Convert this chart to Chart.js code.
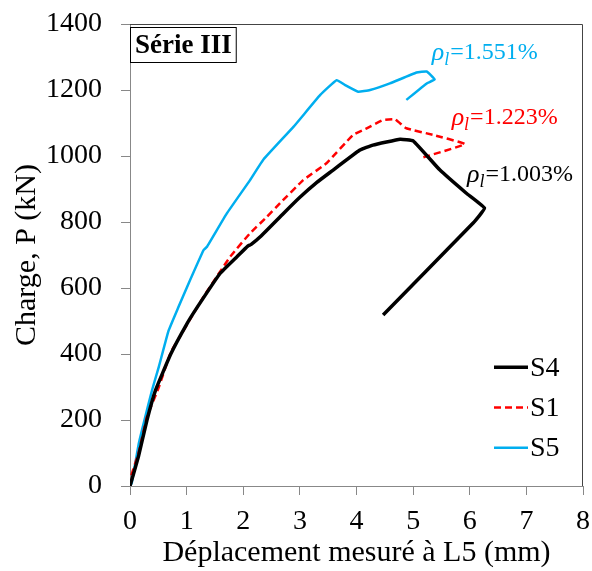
<!DOCTYPE html>
<html>
<head>
<meta charset="utf-8">
<script src="https://cdn.jsdelivr.net/npm/chart.js@4/dist/chart.umd.min.js"></script>
<style>
  html, body { margin: 0; padding: 0; background: #fff; }
  #wrap { width: 592px; height: 571px; }
</style>
</head>
<body>
<div id="wrap"><canvas id="chart" width="592" height="571"></canvas></div>
<script>
// S4 (black) - displacement (mm) / load (kN)
const s4X = [0, 0.15, 0.3, 0.45, 0.72, 1.0, 1.2, 1.59, 1.89, 2.08, 2.14, 2.3, 2.71, 3.0, 3.3, 3.53, 4.06, 4.29, 4.77, 5.0, 5.47, 5.94, 6.26, 6.06, 4.47];
const s4Y = [0, 90, 200, 290, 400, 490, 545, 644, 695, 727, 732, 755, 826, 875, 920, 950, 1018, 1033, 1051, 1046, 958, 887, 842, 797, 518];

// S1 (red, dashed)
const s1X = [0, 0.02, 0.15, 0.3, 0.5, 0.72, 0.89, 1.3, 1.77, 2.12, 2.42, 2.65, 3.06, 3.47, 3.94, 4.18, 4.47, 4.68, 4.88, 5.35, 5.91, 5.18];
const s1Y = [0, 30, 100, 210, 295, 405, 455, 574, 695, 766, 816, 857, 927, 978, 1064, 1084, 1109, 1111, 1084, 1064, 1036, 996];

// S5 (cyan)
const s5X = [0, 0.03, 0.155, 0.27, 0.39, 0.51, 0.68, 0.85, 1.01, 1.3, 1.36, 1.71, 2.12, 2.36, 2.89, 3.36, 3.65, 3.8, 4.03, 4.24, 4.59, 5.06, 5.24, 5.38, 5.24, 4.88];
const s5Y = [0, 8, 129, 210, 291, 362, 470, 540, 604, 715, 725, 826, 927, 990, 1089, 1185, 1230, 1215, 1195, 1200, 1220, 1253, 1256, 1232, 1220, 1170];

const seriesNames = ['S4', 'S1', 'S5'];
const ratioLabels = ['1.003%', '1.223%', '1.551%'];
const xTicks = [0, 1, 2, 3, 4, 5, 6, 7, 8];
const yTicks = [0, 200, 400, 600, 800, 1000, 1200, 1400];

const serif = '"Liberation Serif", "Times New Roman", serif';

function pts(xs, ys) {
  return xs.map((x, i) => ({ x: x, y: ys[i] }));
}

// keep the plot box fixed: drop the label overhang padding
function noOverhang(s) {
  s.paddingTop = 0;
  s.paddingBottom = 0;
  s.paddingLeft = 0;
  s.paddingRight = 0;
}

// frame, legend, labels drawn over the chart
const decor = {
  id: 'decor',
  afterDraw(chart) {
    const ctx = chart.ctx;
    const a = chart.chartArea;
    const sx = chart.scales.x, sy = chart.scales.y;
    ctx.save();

    // top / right border of the plot box
    ctx.strokeStyle = '#444';
    ctx.lineWidth = 1;
    ctx.beginPath();
    ctx.moveTo(a.left, a.top + 0.5);
    ctx.lineTo(a.right - 0.5, a.top + 0.5);
    ctx.lineTo(a.right - 0.5, a.bottom);
    ctx.stroke();

    // "Série III" box
    ctx.font = 'bold 27px ' + serif;
    ctx.textBaseline = 'middle';
    ctx.textAlign = 'left';
    const bx = a.left, by = a.top + 3;
    const tw = ctx.measureText('Série III').width;
    ctx.fillStyle = '#fff';
    ctx.fillRect(bx, by, tw + 10, 35);
    ctx.strokeStyle = '#000';
    ctx.strokeRect(bx + 0.5, by + 0.5, tw + 9, 35);
    ctx.fillStyle = '#000';
    ctx.fillText('Série III', bx + 5, by + 19);

    // legend
    ctx.font = '28px ' + serif;
    chart.data.datasets.forEach((ds, i) => {
      const ly = sy.getPixelForValue(360 - i * 122);
      ctx.strokeStyle = ds.borderColor;
      ctx.lineWidth = ds.borderWidth;
      ctx.setLineDash(ds.borderDash || []);
      ctx.beginPath();
      ctx.moveTo(a.right - 89, ly);
      ctx.lineTo(a.right - 55, ly);
      ctx.stroke();
      ctx.setLineDash([]);
      ctx.fillStyle = '#000';
      ctx.fillText(ds.label, a.right - 53, ly + 1);
    });

    // reinforcement ratio labels
    const spots = [[5.95, 942], [5.68, 1115], [5.33, 1312]];
    chart.data.datasets.forEach((ds, i) => {
      let x = sx.getPixelForValue(spots[i][0]);
      const y = sy.getPixelForValue(spots[i][1]);
      const col = i === 0 ? '#000' : ds.borderColor;
      ctx.fillStyle = col;
      ctx.font = 'italic 26px ' + serif;
      ctx.fillText('ρ', x, y);
      x += ctx.measureText('ρ').width;
      ctx.font = 'italic 18px ' + serif;
      ctx.fillText('l', x, y + 7);
      x += ctx.measureText('l').width + 1;
      ctx.font = '24px ' + serif;
      ctx.fillText('=' + ratioLabels[i], x, y);
    });

    ctx.restore();
  }
};

new Chart(document.getElementById('chart'), {
  type: 'line',
  data: {
    datasets: [{
      label: seriesNames[0],
      data: pts(s4X, s4Y),
      borderColor: '#000000',
      borderWidth: 3.5,
      pointRadius: 0,
      tension: 0.1
    }, {
      label: seriesNames[1],
      data: pts(s1X, s1Y),
      borderColor: '#ff0000',
      borderWidth: 2.5,
      borderDash: [7, 4],
      pointRadius: 0,
      tension: 0.1
    }, {
      label: seriesNames[2],
      data: pts(s5X, s5Y),
      borderColor: '#00aeef',
      borderWidth: 2.5,
      pointRadius: 0,
      tension: 0.1
    }]
  },
  options: {
    responsive: false,
    animation: false,
    layout: { padding: { top: 24, right: 9, left: 0, bottom: 0 } },
    plugins: {
      legend: { display: false },
      tooltip: { enabled: false }
    },
    scales: {
      x: {
        type: 'linear',
        min: 0,
        max: 8,
        afterBuildTicks: s => { s.ticks = xTicks.map(v => ({ value: v })); },
        afterFit: s => { s.height = 85; noOverhang(s); },
        border: { color: '#888', width: 1 },
        grid: { drawOnChartArea: false, drawTicks: true, tickLength: 9, color: '#888' },
        ticks: { color: '#000', font: { family: serif, size: 28 }, padding: 10, callback: v => String(v) },
        title: { display: true, text: 'Déplacement mesuré à L5 (mm)', color: '#000', font: { family: serif, size: 30 }, padding: { top: 0, bottom: 0 } }
      },
      y: {
        type: 'linear',
        min: 0,
        max: 1400,
        afterBuildTicks: s => { s.ticks = yTicks.map(v => ({ value: v })); },
        afterFit: s => { s.width = 130; noOverhang(s); },
        border: { color: '#888', width: 1 },
        grid: { drawOnChartArea: false, drawTicks: true, tickLength: 9, color: '#888' },
        ticks: { color: '#000', font: { family: serif, size: 28 }, padding: 19, callback: v => String(v) },
        title: { display: true, text: 'Charge, P (kN)', color: '#000', font: { family: serif, size: 30 }, padding: { top: 9, bottom: 0 } }
      }
    }
  },
  plugins: [decor]
});
</script>
</body>
</html>
